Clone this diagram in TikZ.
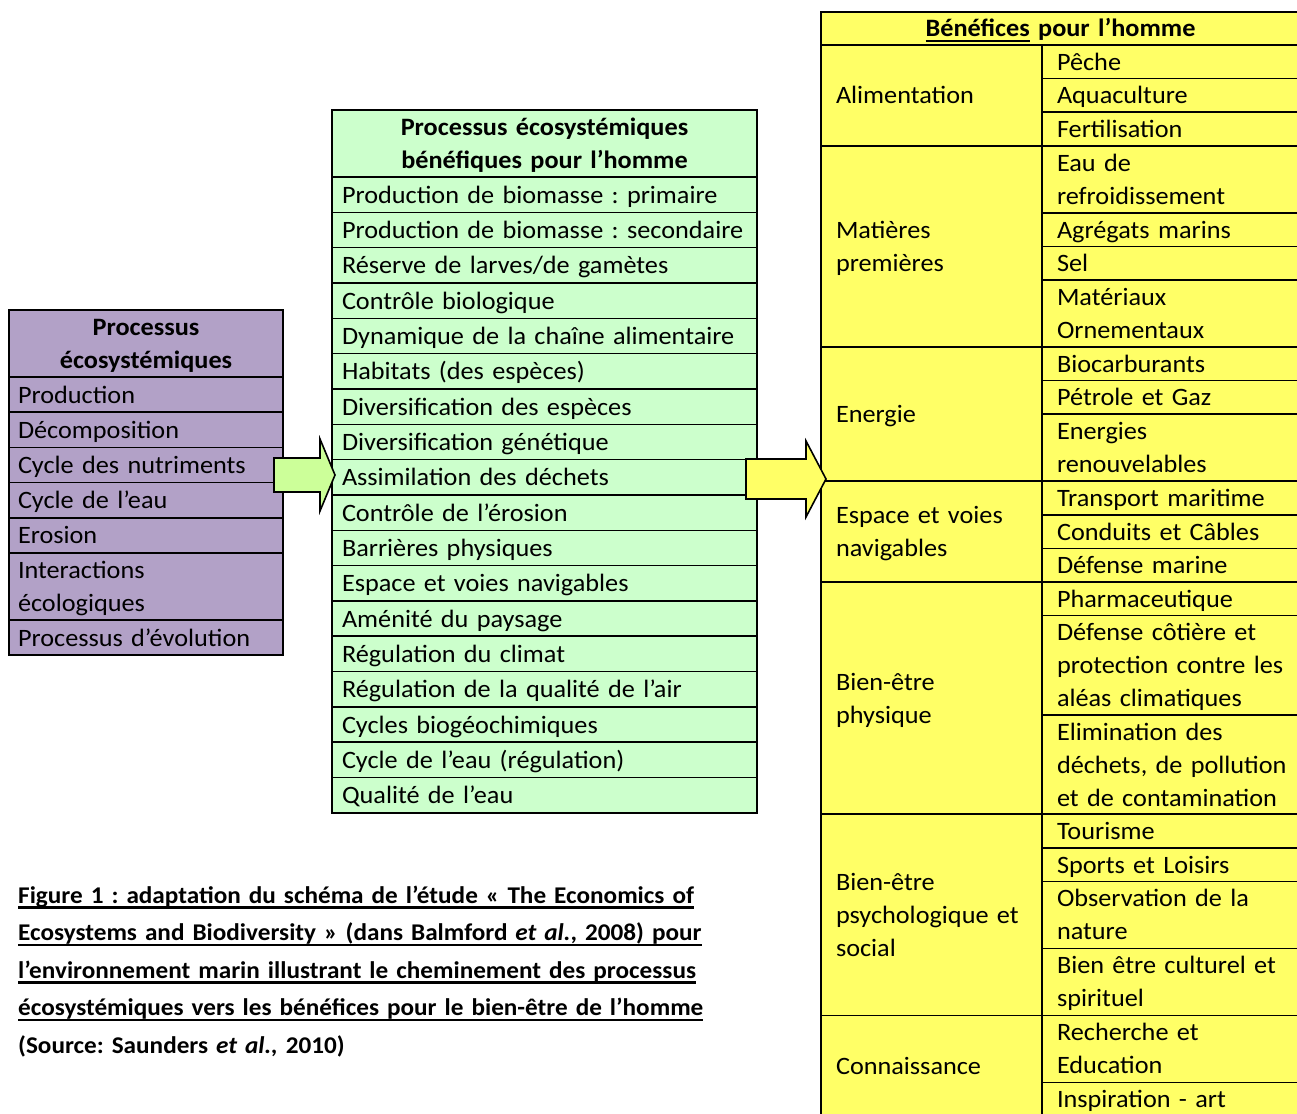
\documentclass[tikz,border=0pt]{standalone}
\usepackage{fontspec}
\setmainfont[FakeStretch=1.05]{Carlito}
\usepackage{tikz}
\usetikzlibrary{positioning, calc}

\definecolor{procpurple}{RGB}{178, 161, 199}
\definecolor{procgreen}{RGB}{204, 255, 204}
\definecolor{arrowgreen}{RGB}{204, 255, 153}
\definecolor{benyellow}{RGB}{255, 255, 102}

\newcommand{\cellfont}{\fontsize{25}{33}\selectfont\frenchspacing\hyphenpenalty=10000}
\newcommand{\rowstrut}{\rule[-8pt]{0pt}{33pt}}
\newsavebox{\ulinebox}
\newcommand{\capul}[1]{\leavevmode\sbox{\ulinebox}{#1}\rlap{\rule[-5.5pt]{\wd\ulinebox}{2.2pt}}\usebox{\ulinebox}}
% [style]{from}{to}{shaft half width}{head half width}{head length}
\newcommand{\blockarrow}[6][]{%
  \draw[#1] let \p1=(#2), \p2=(#3) in
    (\x1,\y1+#4) -- (\x2-#6,\y1+#4) -- (\x2-#6,\y1+#5) -- (\x2,\y2)
    -- (\x2-#6,\y1-#5) -- (\x2-#6,\y1-#4) -- (\x1,\y1-#4) -- cycle;}

\begin{document}
\begin{tikzpicture}[
  x=1pt, y=-1pt,
  font=\cellfont,
  cell/.style={
    draw, line width=1.6pt, outer sep=0pt, inner ysep=0pt,
    align=left,
    execute at begin node=\rowstrut,
    execute at end node=\rowstrut
  },
  purplecell/.style={cell, fill=procpurple, text width=256pt, inner xsep=9pt, minimum height=#1},
  purplecell/.default=35.2pt,
  purplehead/.style={purplecell=67pt, anchor=north west, align=center, font=\cellfont\bfseries},
  greencell/.style={cell, fill=procgreen, text width=405pt, inner xsep=10pt, minimum height=#1},
  greencell/.default=35.33pt,
  greenhead/.style={greencell=67pt, anchor=north west, align=center, font=\cellfont\bfseries},
  yellowcat/.style={cell, fill=benyellow, text width=191pt, inner xsep=15pt, minimum height=#1},
  yellowitem/.style={cell, fill=benyellow, text width=240pt, inner xsep=15pt, minimum height=#1},
  yellowitem/.default=33.6pt,
  yellowhead/.style={cell, fill=benyellow, text width=449pt, inner xsep=15pt, minimum height=33pt,
    anchor=north west, align=center, font=\cellfont\bfseries},
  caption/.style={anchor=base west, align=left, inner sep=0pt, text width=760pt,
    font=\fontsize{24}{37.5}\selectfont\bfseries\frenchspacing},
  blockarrow/.style={draw, line width=1.6pt, line join=miter}
]
\useasboundingbox (0,0) rectangle (1297,1113);
\clip (0,0) rectangle (1297,1113);

\node[purplehead] (lhead) at (9,310) {Processus\\écosystémiques};
\node[purplecell, below=0pt of lhead] (l1) {Production};
\node[purplecell, below=0pt of l1] (l2) {Décomposition};
\node[purplecell, below=0pt of l2] (l3) {Cycle des nutriments};
\node[purplecell, below=0pt of l3] (l4) {Cycle de l’eau};
\node[purplecell, below=0pt of l4] (l5) {Erosion};
\node[purplecell=67pt, below=0pt of l5] (l6) {Interactions\\écologiques};
\node[purplecell, below=0pt of l6] (l7) {Processus d’évolution};

\node[greenhead] (mhead) at (332,110) {Processus écosystémiques\\bénéfiques pour l’homme};
\node[greencell, below=0pt of mhead] (m1) {Production de biomasse : primaire};
\node[greencell, below=0pt of m1] (m2) {Production de biomasse : secondaire};
\node[greencell, below=0pt of m2] (m3) {Réserve de larves/de gamètes};
\node[greencell, below=0pt of m3] (m4) {Contrôle biologique};
\node[greencell, below=0pt of m4] (m5) {Dynamique de la chaîne alimentaire};
\node[greencell, below=0pt of m5] (m6) {Habitats (des espèces)};
\node[greencell, below=0pt of m6] (m7) {Diversification des espèces};
\node[greencell, below=0pt of m7] (m8) {Diversification génétique};
\node[greencell, below=0pt of m8] (m9) {Assimilation des déchets};
\node[greencell, below=0pt of m9] (m10) {Contrôle de l’érosion};
\node[greencell, below=0pt of m10] (m11) {Barrières physiques};
\node[greencell, below=0pt of m11] (m12) {Espace et voies navigables};
\node[greencell, below=0pt of m12] (m13) {Aménité du paysage};
\node[greencell, below=0pt of m13] (m14) {Régulation du climat};
\node[greencell, below=0pt of m14] (m15) {Régulation de la qualité de l’air};
\node[greencell, below=0pt of m15] (m16) {Cycles biogéochimiques};
\node[greencell, below=0pt of m16] (m17) {Cycle de l’eau (régulation)};
\node[greencell, below=0pt of m17] (m18) {Qualité de l’eau};

\node[yellowhead] (rhead) at (821,12) {\capul{Bénéfices} pour l’homme};
\node[yellowcat=100.8pt, anchor=north west] (alim) at (rhead.south west) {Alimentation};
\node[yellowcat=201.2pt, below=0pt of alim] (matieres) {Matières\\premières};
\node[yellowcat=134.2pt, below=0pt of matieres] (energie) {Energie};
\node[yellowcat=100.8pt, below=0pt of energie] (espace) {Espace et voies\\navigables};
\node[yellowcat=232.2pt, below=0pt of espace] (physique) {Bien-être\\physique};
\node[yellowcat=201.2pt, below=0pt of physique] (psycho) {Bien-être\\psychologique et\\social};
\node[yellowcat=100.6pt, below=0pt of psycho] (connais) {Connaissance};

\node[yellowitem, anchor=north west] (peche) at (alim.north east) {Pêche};
\node[yellowitem, below=0pt of peche] (aqua) {Aquaculture};
\node[yellowitem, below=0pt of aqua] (fertil) {Fertilisation};
\node[yellowitem=67pt, below=0pt of fertil] (refroid) {Eau de\\refroidissement};
\node[yellowitem, below=0pt of refroid] (agregats) {Agrégats marins};
\node[yellowitem, below=0pt of agregats] (sel) {Sel};
\node[yellowitem=67pt, below=0pt of sel] (materiaux) {Matériaux\\Ornementaux};
\node[yellowitem, below=0pt of materiaux] (biocarb) {Biocarburants};
\node[yellowitem, below=0pt of biocarb] (petrole) {Pétrole et Gaz};
\node[yellowitem=67pt, below=0pt of petrole] (renouv) {Energies\\renouvelables};
\node[yellowitem, below=0pt of renouv] (transport) {Transport maritime};
\node[yellowitem, below=0pt of transport] (conduits) {Conduits et Câbles};
\node[yellowitem, below=0pt of conduits] (defmar) {Défense marine};
\node[yellowitem, below=0pt of defmar] (pharma) {Pharmaceutique};
\node[yellowitem=99.3pt, below=0pt of pharma] (cotiere) {Défense côtière et\\protection contre les\\aléas climatiques};
\node[yellowitem=99.3pt, below=0pt of cotiere] (elimin) {Elimination des\\déchets, de pollution\\et de contamination};
\node[yellowitem, below=0pt of elimin] (tourisme) {Tourisme};
\node[yellowitem, below=0pt of tourisme] (sports) {Sports et Loisirs};
\node[yellowitem=67pt, below=0pt of sports] (observ) {Observation de la\\nature};
\node[yellowitem=67pt, below=0pt of observ] (culturel) {Bien être culturel et\\spirituel};
\node[yellowitem=67pt, below=0pt of culturel] (recherche) {Recherche et\\Education};
\node[yellowitem, below=0pt of recherche] (inspir) {Inspiration - art};

\coordinate (gfrom) at (274,475);
\coordinate (gto) at (335,475);
\coordinate (yfrom) at (746,479);
\coordinate (yto) at (826,479);
\blockarrow[blockarrow, fill=arrowgreen]{gfrom}{gto}{17pt}{36pt}{15pt}
\blockarrow[blockarrow, fill=benyellow]{yfrom}{yto}{20pt}{38pt}{20pt}

\node[caption] (figcap) at (18,903) {%
  \capul{Figure 1 : adaptation du schéma de l’étude « The Economics of}\\
  \capul{Ecosystems and Biodiversity » (dans Balmford \textit{et al.}, 2008) pour}\\
  \capul{l’environnement marin illustrant le cheminement des processus}\\
  \capul{écosystémiques vers les bénéfices pour le bien-être de l’homme}\\
  (Source: Saunders \textit{et al.,} 2010)};

\end{tikzpicture}
\end{document}
